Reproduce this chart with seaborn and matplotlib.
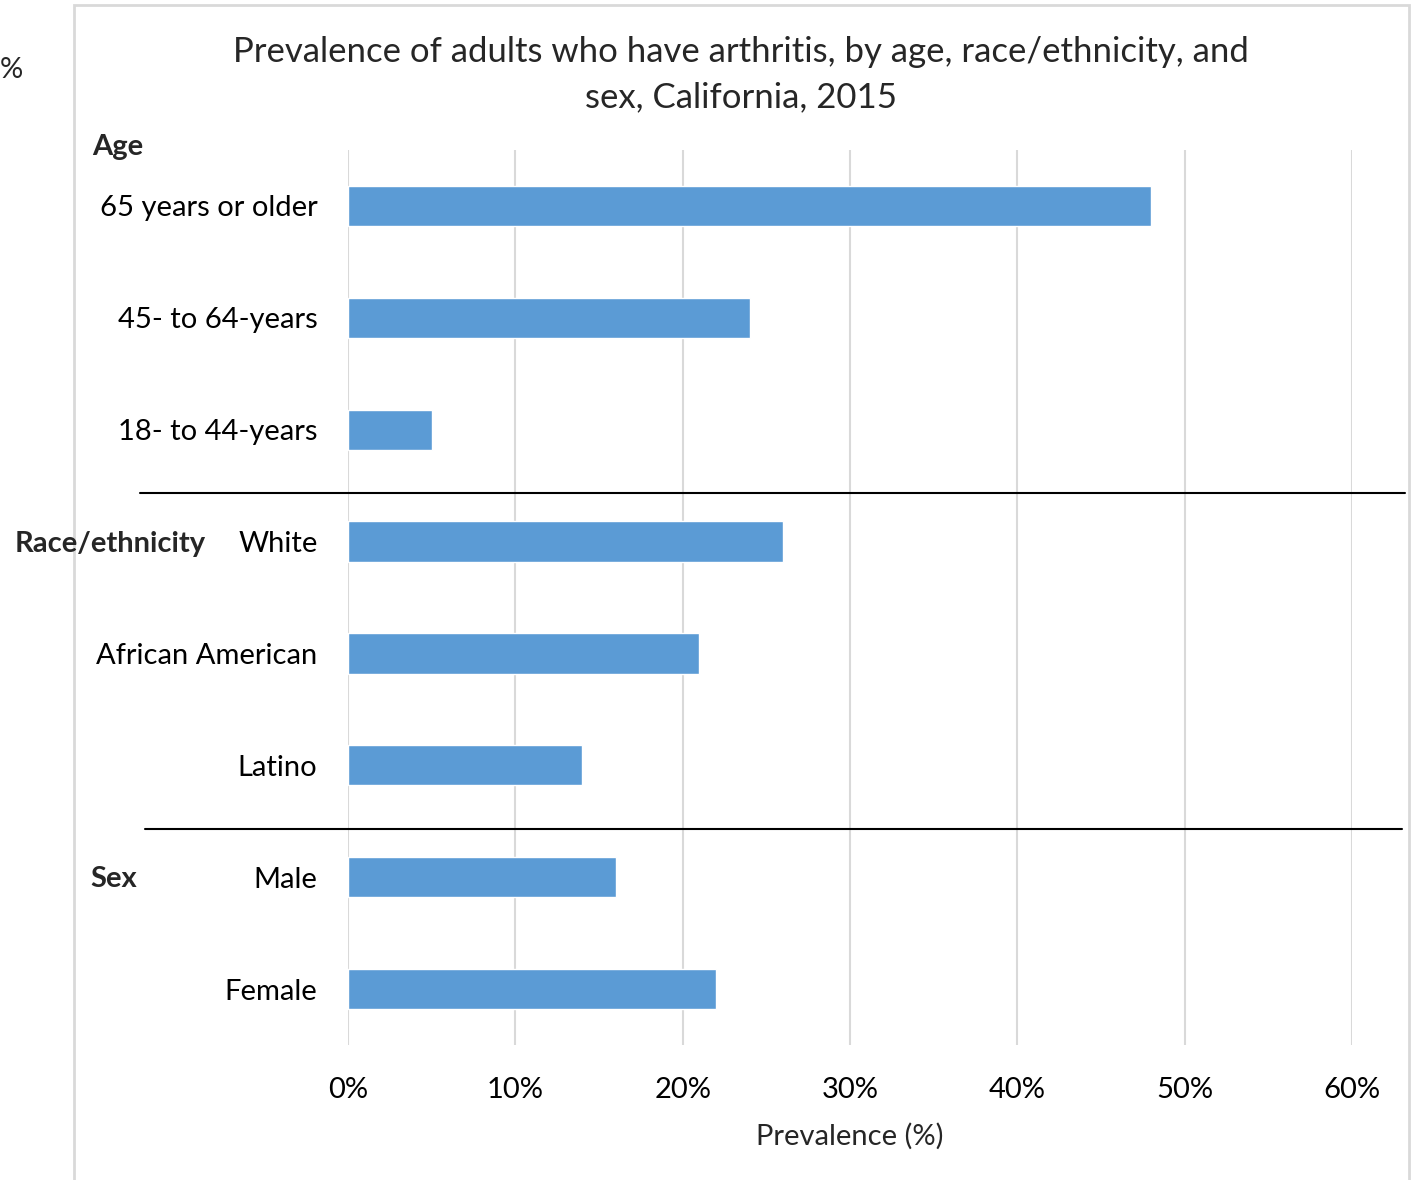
import numpy as np
import pandas as pd
import matplotlib
matplotlib.use("Agg")
import matplotlib.pyplot as plt
from matplotlib.patches import Rectangle
from matplotlib.lines import Line2D
from matplotlib.ticker import PercentFormatter
import seaborn as sns

# ==============================
# Data
# ==============================
groups = ["Age", "Race/ethnicity", "Sex"]
categories = ["65 years or older", "45- to 64-years", "18- to 44-years",
              "White", "African American", "Latino",
              "Male", "Female"]
group_of = ["Age", "Age", "Age",
            "Race/ethnicity", "Race/ethnicity", "Race/ethnicity",
            "Sex", "Sex"]
prevalence = [0.48, 0.24, 0.05, 0.26, 0.21, 0.14, 0.16, 0.22]
x_ticks = [0.0, 0.1, 0.2, 0.3, 0.4, 0.5, 0.6]

df = pd.DataFrame({"category": categories, "group": group_of, "prevalence": prevalence})

W, H = 1412, 1180
BAR_COLOR = "#5B9BD5"
GRID = "#D9D9D9"
FONT = ["Lato", "DejaVu Sans"]
FS = 21

sns.set_theme(style="white")
plt.rcParams["font.family"] = FONT

fig = plt.figure(figsize=(W / 100, H / 100), dpi=100)

def fx(px):
    return px / W

def fy(py):
    return 1 - py / H

ax = fig.add_axes([fx(348), fy(1045), fx(1352) - fx(348), fy(150) - fy(1045)])

sns.barplot(data=df, x="prevalence", y="category", order=categories,
            color=BAR_COLOR, width=0.36, saturation=1, ax=ax)

ax.set_xlim(0, 0.6)
ax.set_ylim(len(categories) - 0.5, -0.5)
ax.set_xticks(x_ticks)
ax.xaxis.set_major_formatter(PercentFormatter(1.0, decimals=0))
ax.grid(axis="x", color=GRID, linewidth=1.5)
ax.set_axisbelow(True)
for s in ax.spines.values():
    s.set_visible(False)
ax.tick_params(axis="both", length=0, labelsize=FS, colors="black")
ax.tick_params(axis="y", pad=22)
ax.tick_params(axis="x", pad=23)
ax.set_ylabel("")
ax.set_xlabel("Prevalence (%)", fontsize=FS, labelpad=14)

# chart frame
fig.add_artist(Rectangle((fx(74), fy(1190)), fx(1409) - fx(74), fy(5) - fy(1190),
                         transform=fig.transFigure, fill=False,
                         edgecolor=GRID, linewidth=2))

# title
fig.text(fx(741), fy(52), "Prevalence of adults who have arthritis, by age, race/ethnicity, and",
         ha="center", va="center", fontsize=25)
fig.text(fx(741), fy(97), "sex, California, 2015", ha="center", va="center", fontsize=25)

# stray label left of the frame
fig.text(fx(0), fy(70), "%", ha="left", va="center", fontsize=FS)

# group labels
first_rows = [group_of.index(g) for g in groups]
label_x = {"Age": 92, "Race/ethnicity": 15, "Sex": 90}
for g, r in zip(groups, first_rows):
    off = -0.53 if g == "Age" else 0.02
    y = fig.transFigure.inverted().transform(ax.transData.transform((0, r + off)))[1]
    fig.text(fx(label_x[g]), y, g, ha="left", va="center", fontsize=FS, fontweight="bold")

# separators between groups
trans = matplotlib.transforms.blended_transform_factory(fig.transFigure, ax.transData)
sep_x = [(140, 1405), (145, 1402)]
for (x0, x1), r in zip(sep_x, first_rows[1:]):
    fig.add_artist(Line2D([fx(x0), fx(x1)], [r - 0.43, r - 0.43], transform=trans,
                          color="black", linewidth=1.5))

fig.savefig("out.png", dpi=100)
